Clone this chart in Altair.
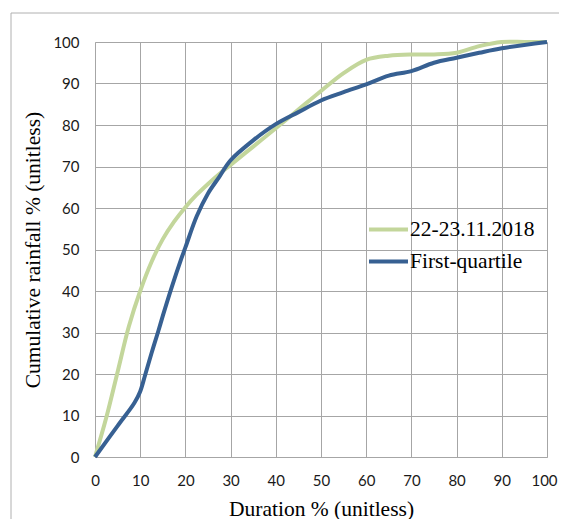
import altair as alt
import pandas as pd

# Series: 22-23.11.2018 (light green)
event_x = [0, 2.5, 5, 7.5, 10, 12.5, 15, 17.5, 20, 22.5, 25, 27.5, 30, 35, 40, 45, 50, 55, 60, 65, 70, 75, 80, 85, 90, 95, 100]
event_y = [0, 9.5, 20.5, 31.5, 40, 47, 52.5, 56.7, 60.2, 63.2, 65.8, 68.2, 70.4, 74.8, 79.2, 83.7, 88.2, 92.5, 95.7, 96.7, 97, 97, 97.4, 99, 100, 100, 100]

# Series: First-quartile (dark blue)
fq_x = [0, 5, 8.7, 10, 11, 12.5, 14, 15, 17, 19, 20, 22.5, 25, 27.5, 30, 35, 40, 45, 50, 55, 60, 65, 70, 75, 80, 85, 90, 100]
fq_y = [0, 7.5, 13, 15.8, 19.4, 25, 30.3, 34, 41, 47.5, 50.5, 58, 63.5, 67.5, 71.5, 76.3, 80.2, 83.1, 85.9, 87.9, 89.8, 91.9, 93, 95, 96.2, 97.4, 98.5, 100]

series_names = ["22-23.11.2018", "First-quartile"]
series_colors = ["#c3d69b", "#376092"]

x_ticks = list(range(0, 101, 10))
y_ticks = list(range(0, 101, 10))

rows = []
for i, (xs, ys) in enumerate([(event_x, event_y), (fq_x, fq_y)]):
    for xv, yv in zip(xs, ys):
        rows.append({"series": series_names[i], "order": i, "x": xv, "y": yv})
df = pd.DataFrame(rows)

label_font = "Lato"
serif = "Liberation Serif"

lines = alt.Chart(df).mark_line(strokeWidth=4, interpolate="catmull-rom", clip=False).encode(
    x=alt.X("x:Q",
            scale=alt.Scale(domain=[0, 100], nice=False),
            axis=alt.Axis(values=x_ticks, title="Duration % (unitless)",
                          titleX=226, titleY=58, titleBaseline="alphabetic",
                          labelPadding=16, labelFlush=False,
                          labelOffset={"condition": {"test": "datum.value == 100", "value": -3},
                                       "value": 0})),
    y=alt.Y("y:Q",
            scale=alt.Scale(domain=[0, 100], nice=False),
            axis=alt.Axis(values=y_ticks, title="Cumulative rainfall % (unitless)",
                          titleX=-62, titleY=207.5, titleAngle=-90,
                          titleAlign="center", titleBaseline="middle",
                          labelPadding=16, labelFlush=False)),
    color=alt.Color("series:N",
                    scale=alt.Scale(domain=series_names, range=series_colors),
                    legend=alt.Legend(title=None, orient="none", legendX=272, legendY=166,
                                      symbolType="stroke", symbolSize=1521,
                                      symbolStrokeWidth=4, labelFont=serif,
                                      labelFontSize=21.5, labelColor="#000000",
                                      labelOffset=0, rowPadding=-10)),
    detail="series:N",
    order="order:Q",
)

frame = alt.Chart(pd.DataFrame({"a": [0]})).mark_rect(
    fill="#ffffff", fillOpacity=0, stroke="#b0b0b0", strokeWidth=1, clip=False
).encode(
    x=alt.value(-84), x2=alt.value(560), y=alt.value(-29), y2=alt.value(560)
)

chart = alt.layer(frame, lines).properties(
    width=452, height=415,
    autosize=alt.AutoSizeParams(type="none"),
    padding={"left": 87, "top": 34, "right": 12, "bottom": 62},
).configure_view(stroke=None).configure_axis(
    grid=True, gridColor="#a6a6a6", gridWidth=1,
    domainColor="#a6a6a6", domainWidth=1,
    ticks=False,
    labelFont=label_font, labelFontSize=15, labelColor="#1a1a1a",
    titleFont=serif, titleFontSize=21.5, titleFontWeight="normal", titleColor="#000000",
)

chart.save("out.html", embed_options={"renderer": "svg", "actions": False})
